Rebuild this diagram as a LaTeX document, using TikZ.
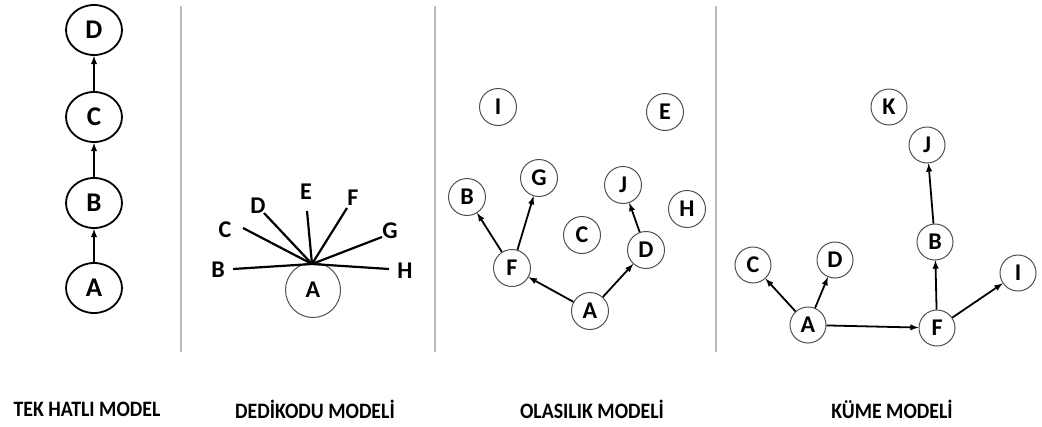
\documentclass[tikz,border=0pt]{standalone}
\usepackage{fontspec}
\setmainfont{Carlito}
\usetikzlibrary{arrows,positioning,shapes.geometric}
\definecolor{sepgray}{RGB}{185,185,185}
\definecolor{ringgray}{RGB}{80,80,80}

\tikzset{
  bignode/.style={draw,line width=1.8pt,ellipse,minimum width=56,minimum height=50,inner sep=0pt,font=\fontsize{27}{27}\selectfont\bfseries},
  smallnode/.style={draw=ringgray,line width=1pt,circle,minimum size=37,inner sep=0pt,font=\fontsize{24}{24}\selectfont\bfseries},
  letter/.style={inner sep=0pt,font=\fontsize{24}{24}\selectfont\bfseries},
  caption/.style={inner sep=0pt,xscale=0.9,transform shape,font=\fontsize{22}{22}\selectfont\bfseries},
  conn/.style={line width=1.8pt,->,>=latex},
  spoke/.style={line width=2.2pt},
  sep/.style={draw=sepgray,line width=1.8pt}
}

\begin{document}
\begin{tikzpicture}[x=1pt,y=-1pt]
\useasboundingbox (0,0) rectangle (1042,426);
% separators
\draw[sep] (181,6) -- (181,352);
\draw[sep] (435,6) -- (435,352);
\draw[sep] (716,6) -- (716,352);

% tek hatli model
\node[bignode] (tA) at (94,288) {A};
\node[bignode] (tB) at (94,203) {B};
\node[bignode] (tC) at (94,117) {C};
\node[bignode] (tD) at (94,30) {D};
\draw[conn] (tA) -- (tB);
\draw[conn] (tB) -- (tC);
\draw[conn] (tC) -- (tD);

% dedikodu modeli
\node[smallnode,minimum size=55] (gA) at (313,290) {A};
\coordinate (hub) at (312,264);
\coordinate (eB) at (233,269);
\coordinate (eC) at (243,228);
\coordinate (eD) at (264,213);
\coordinate (eE) at (307,211);
\coordinate (eF) at (347,208);
\coordinate (eG) at (382,237);
\coordinate (eH) at (389,269);
\node[letter] (gB) at (218,270) {B};
\node[letter] (gC) at (225,230) {C};
\node[letter] (gD) at (258,206) {D};
\node[letter] (gE) at (306,192) {E};
\node[letter] (gF) at (353,198) {F};
\node[letter] (gG) at (390,231) {G};
\node[letter] (gH) at (405,271) {H};
\foreach \e in {eB,eC,eD,eE,eF,eG,eH}
  \draw[spoke] (hub) -- (\e);

% olasilik modeli
\node[smallnode] (oI) at (498,107) {I};
\node[smallnode] (oE) at (665,112) {E};
\node[smallnode] (oG) at (539,178) {G};
\node[smallnode] (oB) at (467,197) {B};
\node[smallnode] (oJ) at (623,185) {J};
\node[smallnode] (oH) at (687,209) {H};
\node[smallnode] (oC) at (582,235) {C};
\node[smallnode] (oD) at (646,250) {D};
\node[smallnode] (oF) at (512,268) {F};
\node[smallnode] (oA) at (590,311) {A};
\draw[conn] (oA) -- (oF);
\draw[conn] (oA) -- (oD);
\draw[conn] (oF) -- (oB);
\draw[conn] (oF) -- (oG);
\draw[conn] (oD) -- (oJ);

% kume modeli
\node[smallnode,minimum size=36] (kK) at (889,107) {K};
\node[smallnode,minimum size=36] (kJ) at (927,145) {J};
\node[smallnode,minimum size=36] (kB) at (935,242) {B};
\node[smallnode,minimum size=36] (kC) at (753,265) {C};
\node[smallnode,minimum size=36] (kD) at (835,260) {D};
\node[smallnode,minimum size=36] (kI) at (1018,273) {I};
\node[smallnode,minimum size=36] (kA) at (808,325) {A};
\node[smallnode,minimum size=36] (kF) at (937,328) {F};
\draw[conn] (kA) -- (kC);
\draw[conn] (kA) -- (kD);
\draw[conn] (kA) -- (kF);
\draw[conn] (kF) -- (kB);
\draw[conn] (kF) -- (kI);
\draw[conn] (kB) -- (kJ);

% captions
\node[caption] (cap1) at (87,409) {TEK HATLI MODEL};
\node[caption] (cap2) at (315,409) {DEDİKODU MODELİ};
\node[caption] (cap3) at (592,409) {OLASILIK MODELİ};
\node[caption] (cap4) at (892,409) {KÜME MODELİ};
\end{tikzpicture}
\end{document}
